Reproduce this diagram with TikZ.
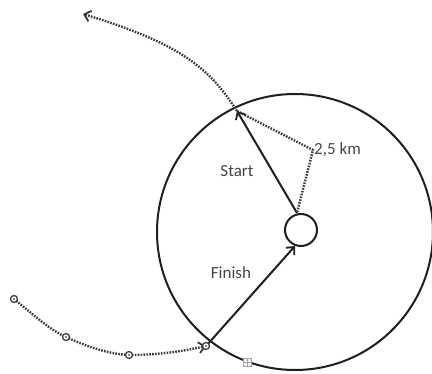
\documentclass[tikz,border=0pt]{standalone}
\usepackage{fontspec}
\setmainfont{Carlito}
\usetikzlibrary{arrows.meta}
\definecolor{txt}{RGB}{70,70,70}
\tikzset{
  solidline/.style={line width=2pt, black!88},
  dotline/.style={line width=2.4pt, black!78, dash pattern=on 1.6pt off 1.3pt},
  tip/.style={-{Straight Barb[length=6pt,width=11pt,line width=1.8pt]}},
  marker/.style={circle, draw=black!75, line width=1.3pt, minimum size=7pt, inner sep=0pt, fill=white,
    path picture={\fill[black!60] (path picture bounding box.center) circle (1.1pt);}},
  lbl/.style={font=\fontsize{17}{20}\selectfont, text=txt, inner sep=0pt}
}
\begin{document}
\begin{tikzpicture}[x=1pt,y=-1pt]
\useasboundingbox (0,0) rectangle (432,374);
% circles
\node[circle, draw, solidline, minimum size=276pt, inner sep=0pt] (big) at (295,232) {};
\node[circle, draw, solidline, minimum size=32pt, inner sep=0pt] (small) at (301,230) {};
% points
\coordinate (S) at (237,111);
\coordinate (K) at (313,150);
\coordinate (Sb) at (297,213);
\coordinate (F) at (207,345);
\coordinate (Fe) at (295,246);
\coordinate (T) at (83,14);
% start / finish arrows
\draw[solidline, tip] (Sb) -- (S);
\draw[solidline, tip] (F) -- (Fe);
% distance triangle
\draw[dotline] (S) -- (K) -- (Sb);
% incoming path
\coordinate (p1) at (14,299);
\coordinate (p2) at (66,337);
\coordinate (p3) at (129,355);
\coordinate (p4) at (206,346);
\draw[dotline] (p1) .. controls (35,316) and (50,330) .. (p2);
\draw[dotline] (p2) .. controls (90,348) and (110,354) .. (p3);
\draw[dotline, tip] (p3) .. controls (155,355) and (180,352) .. (p4);
\node[marker] (m1) at (p1) {};
\node[marker] (m2) at (p2) {};
\node[marker] (m3) at (p3) {};
\node[marker] (m4) at (p4) {};
% outgoing path
\draw[dotline, tip] (S) .. controls (210,70) and (185,45) .. (T);
% labels
\node[lbl] (start) at (237,171) {Start};
\node[lbl] (finish) at (231,273) {Finish};
\node[lbl, anchor=west] (dist) at (314,150) {2,5 km};
% small anchor icon
\node[draw=black!35, fill=black!5, minimum size=8pt, inner sep=0pt, line width=0.6pt] (icon) at (247,362) {};
\draw[black!35, line width=0.5pt] (icon.north) -- (icon.south) (icon.west) -- (icon.east);
\end{tikzpicture}
\end{document}
